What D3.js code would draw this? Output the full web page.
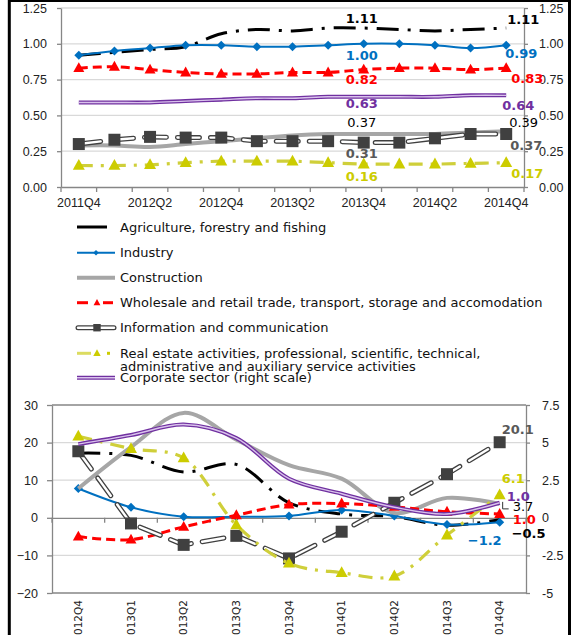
<!DOCTYPE html>
<html><head><meta charset="utf-8">
<script src="https://cdn.jsdelivr.net/npm/d3@7"></script>
<style>
body{margin:0;background:#fff}
svg{display:block;font-family:"DejaVu Sans",Verdana,sans-serif}
</style>
</head><body>
<svg id="c" width="571" height="635"></svg>
<script>
// ---------- DATA ----------
const topQuarters = ["2011Q4","2012Q1","2012Q2","2012Q3","2012Q4","2013Q1","2013Q2","2013Q3","2013Q4","2014Q1","2014Q2","2014Q3","2014Q4"];
const topTickLabels = ["2011Q4","2012Q2","2012Q4","2013Q2","2013Q4","2014Q2","2014Q4"];
const topYTicks = [0,0.25,0.5,0.75,1.0,1.25];

const agriTop   = [0.92,0.94,0.96,0.98,1.07,1.10,1.09,1.11,1.11,1.10,1.09,1.10,1.11];
const indTop    = [0.92,0.95,0.97,0.99,0.99,0.98,0.98,0.99,1.00,1.00,0.99,0.97,0.99];
const conTop    = [0.29,0.29,0.28,0.30,0.32,0.34,0.36,0.37,0.37,0.37,0.37,0.38,0.39];
const wholeTop  = [0.83,0.84,0.82,0.80,0.79,0.79,0.80,0.80,0.82,0.83,0.83,0.82,0.83];
const infoTop   = [0.30,0.33,0.35,0.345,0.345,0.32,0.32,0.32,0.31,0.31,0.34,0.37,0.37];
const realTop   = [0.15,0.15,0.155,0.17,0.18,0.18,0.18,0.17,0.16,0.16,0.16,0.165,0.17];
const corpTop   = [0.59,0.59,0.59,0.60,0.61,0.62,0.62,0.63,0.63,0.63,0.63,0.64,0.64];

const botQuarters = ["2012Q4","2013Q1","2013Q2","2013Q3","2013Q4","2014Q1","2014Q2","2014Q3","2014Q4"];
const botLeftTicks = [-20,-10,0,10,20,30];
const botRightTicks = [-5,-2.5,0,2.5,5,7.5];

const agriBot  = [17.2,16.6,12.2,14.2,4.0,1.0,0.3,-2.0,-0.5];
const indBot   = [7.8,2.8,0.3,0.3,0.5,2.1,0.5,-1.8,-1.2];
const conBot   = [7.8,18.8,27.9,20.8,14.0,10.4,1.3,5.3,3.7];
const wholeBot = [-5.0,-5.8,-2.4,0.7,3.5,3.8,2.9,1.6,1.0];
const infoBot  = [17.7,-1.5,-7.2,-4.8,-10.8,-3.7,4.0,11.6,20.1];
const realBot  = [21.7,18.4,15.9,-1.9,-12.1,-14.6,-15.5,-4.6,6.1];
const corpBot  = [4.9,5.5,6.2,5.3,2.6,1.6,0.7,0.25,1.0];

const seriesNames = [
  "Agriculture, forestry and fishing",
  "Industry",
  "Construction",
  "Wholesale and retail trade, transport, storage and accomodation",
  "Information and communication",
  "Real estate activities, professional, scientific, technical,|administrative and auxiliary service activities",
  "Corporate sector (right scale)"
];

// ---------- STYLES ----------
const FONT = 13;
const st = {
  agri:  {layers:[{c:"#000",w:3,dash:"22,9,3,9"}], curve:true, lab:{c:"#000",b:true}},
  ind:   {layers:[{c:"#0070C0",w:2}], curve:true, m:"diamond", ms:9, mc:"#0070C0", lab:{c:"#0070C0",b:true}},
  con:   {layers:[{c:"#A6A6A6",w:4}], curve:true, lab:{c:"#000",b:false}},
  whole: {layers:[{c:"#FF0000",w:3,dash:"9,5"}], curve:true, m:"triangle", ms:11, mc:"#FF0000", lab:{c:"#FF0000",b:true}},
  info:  {layers:[{c:"#404040",w:5,dash:"22,11",cap:"round"},{c:"#fff",w:2.4,dash:"22,11",cap:"round"}], curve:false, m:"square", ms:12, mc:"#404040", lab:{c:"#595959",b:true}},
  real:  {layers:[{c:"#CFCF3A",w:3.2,dash:"14,8,3,8"}], curve:true, m:"triangle", ms:12, mc:"#CCCC00", lab:{c:"#CCCC00",b:true}},
  corp:  {layers:[{c:"#7030A0",w:4},{c:"#D9C2EC",w:1.4}], curve:true, lab:{c:"#7030A0",b:true}}
};

function markerPath(type, s){
  if(type==="diamond") return `M0,${-s/2}L${s/2},0L0,${s/2}L${-s/2},0Z`;
  if(type==="square") return `M${-s/2},${-s/2}h${s}v${s}h${-s}Z`;
  if(type==="triangle"){const h=s*0.9;return `M0,${-h*0.6}L${s/2},${h*0.4}L${-s/2},${h*0.4}Z`;}
  return "";
}

const svg = d3.select("#c");
svg.append("rect").attr("width",571).attr("height",635).attr("fill","#fff");

function drawSeries(g, xs, ys, cats, vals, s){
  const cx = i => xs(cats[i]) + xs.bandwidth()/2;
  const line = d3.line().x((d,i)=>cx(i)).y(d=>ys(d))
    .curve(s.curve ? d3.curveCatmullRom.alpha(0.5) : d3.curveLinear);
  s.layers.forEach(L=>{
    g.append("path").datum(vals).attr("d",line).attr("fill","none")
      .attr("stroke",L.c).attr("stroke-width",L.w)
      .attr("stroke-dasharray",L.dash||null)
      .attr("stroke-linecap",L.cap||"butt").attr("stroke-linejoin","round");
  });
  if(s.m){
    g.selectAll(null).data(vals).join("path")
      .attr("transform",(d,i)=>`translate(${cx(i)},${ys(d)})`)
      .attr("d",markerPath(s.m,s.ms)).attr("fill",s.mc);
  }
}

function label(g, x, y, text, s, anchor){
  g.append("text").attr("x",x).attr("y",y).text(text)
    .attr("fill",s.lab.c).attr("font-weight",s.lab.b?"bold":"normal")
    .attr("font-size",FONT).attr("text-anchor",anchor||"start");
}

function styleAxis(g){
  g.selectAll("path.domain").attr("stroke","#868686").attr("stroke-width",1.3);
  g.selectAll(".tick line").attr("stroke","#868686").attr("stroke-width",1.3);
  g.selectAll(".tick text").attr("fill","#222").attr("font-size",12.5).attr("font-family",null);
}

// ================= TOP CHART =================
const xT = d3.scaleBand().domain(topQuarters).range([61,524]);
const yT = d3.scaleLinear().domain([0,1.25]).range([187,8]);
const yTR = d3.scaleLinear().domain([0,1.25]).range([187,8]);
const gT = svg.append("g");

gT.append("g").selectAll("line").data(topYTicks.filter(d=>d>0)).join("line")
  .attr("x1",61).attr("x2",524).attr("y1",d=>yT(d)).attr("y2",d=>yT(d))
  .attr("stroke","#D9D9D9").attr("stroke-width",1.3);

const axL = gT.append("g").attr("transform","translate(61,0)")
  .call(d3.axisLeft(yT).tickValues(topYTicks).tickFormat(d3.format(".2f")).tickSize(4).tickSizeOuter(0).tickPadding(10));
styleAxis(axL);
const axR = gT.append("g").attr("transform","translate(524,0)")
  .call(d3.axisRight(yTR).tickValues(topYTicks).tickFormat(d3.format(".2f")).tickSize(4).tickSizeOuter(0).tickPadding(11));
styleAxis(axR);
const axB = gT.append("g").attr("transform","translate(0,187)")
  .call(d3.axisBottom(xT).tickValues(topQuarters).tickSize(0).tickSizeOuter(0).tickPadding(11)
    .tickFormat(d=>topTickLabels.includes(d)?d:""));
styleAxis(axB);
const topBounds = topQuarters.map(q=>xT(q)).concat([xT.range()[1]]);
gT.append("g").selectAll("line").data(topBounds).join("line")
  .attr("x1",d=>d).attr("x2",d=>d).attr("y1",187).attr("y2",192)
  .attr("stroke","#868686").attr("stroke-width",1.3);

const topSeries = [
  [agriTop, st.agri, yT], [indTop, st.ind, yT], [conTop, st.con, yT], [wholeTop, st.whole, yT],
  [infoTop, st.info, yT], [realTop, st.real, yT], [corpTop, st.corp, yTR]
];
topSeries.forEach(([v,s,ys])=>drawSeries(gT,xT,ys,topQuarters,v,s));

const f2 = d3.format(".2f");
const midI = 8, endI = 12;
const cxT = i => xT(topQuarters[i]) + xT.bandwidth()/2;
const topLab = [
  [agriTop, st.agri, yT, -5,  1, -4.5],
  [indTop,  st.ind,  yT, 16, -1, 12.5],
  [wholeTop,st.whole,yT, 14.5, 5, 14.7],
  [corpTop, st.corp, yTR, 11.5, -4, 14.6],
  [conTop,  st.con,  yT, -7.5, 3, -4.5],
  [infoTop, st.info, yT, 15, 4, 16],
  [realTop, st.real, yT, 17, 5, 15.6]
];
topLab.forEach(([v,s,ys,mdy,edx,edy])=>{
  label(gT, cxT(midI)-2, ys(v[midI])+mdy, f2(v[midI]), s, "middle");
  label(gT, cxT(endI)+edx, ys(v[endI])+edy, f2(v[endI]), s, "start");
});

// ================= LEGEND =================
const gL = svg.append("g");
const legY = [227,252.7,277.7,302.7,327.7,353.3,377.7];
const legKeys = ["agri","ind","con","whole","info","real","corp"];
legKeys.forEach((k,i)=>{
  const s = st[k], y = legY[i];
  const x0 = 77, x1 = k==="agri"?107:115;
  if(k==="whole"){
    gL.append("line").attr("x1",77).attr("x2",88).attr("y1",y).attr("y2",y).attr("stroke","#FF0000").attr("stroke-width",3);
    gL.append("line").attr("x1",103).attr("x2",113).attr("y1",y).attr("y2",y).attr("stroke","#FF0000").attr("stroke-width",3);
  } else if(k==="real"){
    gL.append("line").attr("x1",77).attr("x2",91).attr("y1",y).attr("y2",y).attr("stroke","#DCDC60").attr("stroke-width",3);
    gL.append("line").attr("x1",107).attr("x2",110).attr("y1",y).attr("y2",y).attr("stroke","#CCCC00").attr("stroke-width",3);
  } else if(k==="agri"){
    gL.append("line").attr("x1",x0).attr("x2",x1).attr("y1",y).attr("y2",y).attr("stroke","#000").attr("stroke-width",3);
  } else {
    s.layers.forEach(L=>gL.append("line").attr("x1",x0+(L.cap?1:0)).attr("x2",x1-(L.cap?1:0)).attr("y1",y).attr("y2",y)
      .attr("stroke",L.c).attr("stroke-width",L.w).attr("stroke-linecap",L.cap||"butt"));
  }
  if(s.m){
    gL.append("path").attr("transform",`translate(${k==="ind"?96:97},${y})`).attr("d",markerPath(s.m, s.ms*0.62)).attr("fill",s.mc);
  }
  const lines = seriesNames[i].split("|");
  lines.forEach((t,j)=>{
    gL.append("text").attr("x",120).attr("y",y+4.5+j*13.3).text(t)
      .attr("font-size",FONT).attr("fill","#111");
  });
});

// ================= BOTTOM CHART =================
const xB = d3.scaleBand().domain(botQuarters).range([52,526]);
const yB = d3.scaleLinear().domain([-20,30]).range([593,405]);
const yBR = d3.scaleLinear().domain([-5,7.5]).range([593,405]);
const gB = svg.append("g");

gB.append("g").selectAll("line").data(botLeftTicks.filter(d=>d!==0 && d!==-20 && d!==30)).join("line")
  .attr("x1",52).attr("x2",526).attr("y1",d=>yB(d)).attr("y2",d=>yB(d))
  .attr("stroke","#D9D9D9").attr("stroke-width",1.3);
[30,-20].forEach(v=>gB.append("line").attr("x1",52).attr("x2",526).attr("y1",yB(v)).attr("y2",yB(v))
  .attr("stroke","#868686").attr("stroke-width",1.5));

const bL = gB.append("g").attr("transform","translate(52,0)")
  .call(d3.axisLeft(yB).tickValues(botLeftTicks).tickSize(5).tickSizeOuter(0).tickPadding(9));
styleAxis(bL);
const bR = gB.append("g").attr("transform","translate(526,0)")
  .call(d3.axisRight(yBR).tickValues(botRightTicks).tickFormat(d=>String(d)).tickSize(4).tickSizeOuter(0).tickPadding(12));
styleAxis(bR);
const bZ = gB.append("g").attr("transform",`translate(0,${yB(0)})`)
  .call(d3.axisBottom(xB).tickSize(0).tickSizeOuter(0).tickFormat(""));
styleAxis(bZ);
const botBounds = botQuarters.map(q=>xB(q)).concat([xB.range()[1]]);
gB.append("g").selectAll("line").data(botBounds).join("line")
  .attr("x1",d=>d).attr("x2",d=>d).attr("y1",yB(0)).attr("y2",yB(0)+5)
  .attr("stroke","#868686").attr("stroke-width",1.3);
gB.append("g").selectAll("text").data(botQuarters).join("text")
  .attr("transform",d=>`translate(${xB(d)+xB.bandwidth()/2},600) rotate(-90)`)
  .attr("text-anchor","end").attr("dy","0.35em").attr("font-size",10.5).attr("fill","#222").text(d=>d);

const botSeries = [
  [agriBot, st.agri, yB], [indBot, st.ind, yB], [conBot, st.con, yB], [wholeBot, st.whole, yB],
  [infoBot, st.info, yB], [realBot, st.real, yB], [corpBot, st.corp, yBR]
];
botSeries.forEach(([v,s,ys])=>drawSeries(gB,xB,ys,botQuarters,v,s));

const f1 = d3.format(".1f");
const eI = botQuarters.length-1;
const cxB = xB(botQuarters[eI]) + xB.bandwidth()/2;
const botLab = [
  [infoBot, st.info, yB, 2, -8.6, "start"],
  [realBot, st.real, yB, 2, -12, "start"],
  [corpBot, st.corp, yBR, 7, -1.6, "start"],
  [conBot,  st.con,  yB, 13, 7, "start"],
  [wholeBot,st.whole,yB, 13, 10.3, "start"],
  [agriBot, st.agri, yB, 12, 18.7, "start"],
  [indBot,  st.ind,  yB, 2, 23, "end"]
];
botLab.forEach(([v,s,ys,dx,dy,a])=>label(gB, cxB+dx, ys(v[eI])+dy, f1(v[eI]), s, a));
gB.append("path").attr("d",`M${cxB+3},${yB(conBot[eI])-2}V${yB(conBot[eI])+5}H${cxB+9}`)
  .attr("fill","none").attr("stroke","#333").attr("stroke-width",1);

svg.append("rect").attr("x",9.3).attr("y",0.5).attr("width",560.2).attr("height",700)
  .attr("fill","none").attr("stroke","#000").attr("stroke-width",3);
</script>
</body></html>
